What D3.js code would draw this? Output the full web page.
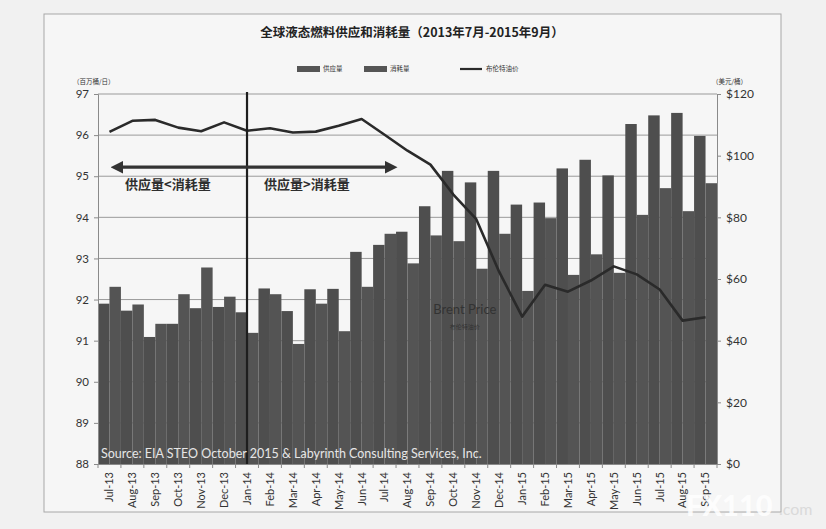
<!DOCTYPE html>
<html>
<head>
<meta charset="utf-8">
<script src="https://cdn.jsdelivr.net/npm/d3@7"></script>
<style>
  body { margin: 0; background: #f1f1f1; }
  svg { display: block; }
</style>
</head>
<body>
<svg id="chart"></svg>
<script>
// Months on the x axis
const months = ["Jul-13","Aug-13","Sep-13","Oct-13","Nov-13","Dec-13",
  "Jan-14","Feb-14","Mar-14","Apr-14","May-14","Jun-14","Jul-14","Aug-14","Sep-14","Oct-14","Nov-14","Dec-14",
  "Jan-15","Feb-15","Mar-15","Apr-15","May-15","Jun-15","Jul-15","Aug-15","Sep-15"];

// Supply (million barrels / day)
const supply = [91.90, 91.73, 91.09, 91.41, 91.79, 91.82,
  91.69, 92.27, 91.72, 92.25, 92.26, 93.16, 93.33, 93.65, 94.27, 95.13, 94.85, 95.13,
  94.31, 94.36, 95.19, 95.40, 95.02, 96.27, 96.48, 96.54, 95.98];

// Consumption (million barrels / day)
const consumption = [92.31, 91.88, 91.41, 92.13, 92.78, 92.07,
  91.19, 92.13, 90.92, 91.90, 91.23, 92.31, 93.60, 92.88, 93.56, 93.42, 92.75, 93.60,
  92.21, 93.98, 92.60, 93.10, 92.65, 94.06, 94.71, 94.15, 94.83];

// Brent price ($ / barrel)
const brent = [107.7, 111.3, 111.6, 109.1, 107.9, 110.8,
  108.1, 108.9, 107.5, 107.8, 109.7, 111.9, 106.8, 101.6, 97.1, 87.4, 79.4, 62.3,
  47.8, 58.1, 55.9, 59.5, 64.1, 61.5, 56.6, 46.5, 47.6];

const leftTicks = [88, 89, 90, 91, 92, 93, 94, 95, 96, 97];
const rightTicks = [0, 20, 40, 60, 80, 100, 120];

const width = 826, height = 529;
const plot = { left: 98, right: 717, top: 94, bottom: 464 };
const font = "Lato, 'Open Sans', sans-serif";
const cjk = "'Noto Sans CJK SC', sans-serif";

const svg = d3.select("#chart")
    .attr("width", width)
    .attr("height", height);

// Chart frame
svg.append("rect")
    .attr("x", 44).attr("y", 14)
    .attr("width", 737).attr("height", 498)
    .attr("fill", "#f6f6f6")
    .attr("stroke", "#a8a8a8");

// Scales
const x = d3.scaleBand()
    .domain(months)
    .range([plot.left, plot.right])
    .padding(0);

const xInner = d3.scaleBand()
    .domain(["supply", "consumption"])
    .range([0, x.bandwidth()]);

const y = d3.scaleLinear()
    .domain([88, 97])
    .range([plot.bottom, plot.top]);

const yR = d3.scaleLinear()
    .domain([0, 120])
    .range([plot.bottom, plot.top]);

// Gridlines
svg.append("g")
    .selectAll("line")
    .data(leftTicks.slice(1))
    .enter()
    .append("line")
    .attr("x1", plot.left).attr("x2", plot.right)
    .attr("y1", d => y(d)).attr("y2", d => y(d))
    .attr("stroke", "#9a9a9a")
    .attr("stroke-width", 1);

// Bars
const rows = months.map((m, i) => ({ month: m, supply: supply[i], consumption: consumption[i] }));

svg.append("g")
    .selectAll("g")
    .data(rows)
    .enter()
    .append("g")
    .attr("transform", d => `translate(${x(d.month)},0)`)
    .selectAll("rect")
    .data(d => [["supply", d.supply], ["consumption", d.consumption]])
    .enter()
    .append("rect")
    .attr("x", d => xInner(d[0]))
    .attr("width", xInner.bandwidth())
    .attr("y", d => y(d[1]))
    .attr("height", d => y(88) - y(d[1]))
    .attr("fill", d => d[0] === "supply" ? "#4e4e4e" : "#545454");

// Left axis
const leftAxis = svg.append("g")
    .attr("transform", `translate(${plot.left},0)`)
    .call(d3.axisLeft(y).tickValues(leftTicks).tickSize(4).tickFormat(d3.format("d")));
leftAxis.select(".domain").attr("stroke", "#8a8a8a");
leftAxis.selectAll(".tick line").attr("stroke", "#8a8a8a");
leftAxis.selectAll("text")
    .attr("x", -9)
    .style("font-family", font)
    .style("font-size", "11.5px")
    .attr("fill", "#333");

// Right axis
const rightAxis = svg.append("g")
    .attr("transform", `translate(${plot.right},0)`)
    .call(d3.axisRight(yR).tickValues(rightTicks).tickSize(4).tickFormat(d => "$" + d));
rightAxis.select(".domain").attr("stroke", "#8a8a8a");
rightAxis.selectAll(".tick line").attr("stroke", "#8a8a8a");
rightAxis.selectAll("text")
    .attr("x", 9)
    .style("font-family", font)
    .style("font-size", "12px")
    .attr("fill", "#333");

// Bottom axis, ticks on month boundaries
const bottomAxis = svg.append("g")
    .attr("transform", `translate(0,${plot.bottom})`)
    .call(d3.axisBottom(x).tickSize(0));
bottomAxis.select(".domain").attr("stroke", "#8a8a8a");
bottomAxis.selectAll("text")
    .attr("transform", "rotate(-90)")
    .attr("x", -8)
    .attr("y", 0)
    .attr("dy", "0.35em")
    .attr("text-anchor", "end")
    .style("font-family", font)
    .style("font-size", "11px")
    .attr("fill", "#333");
svg.append("g")
    .selectAll("line")
    .data(months.concat(["end"]))
    .enter()
    .append("line")
    .attr("x1", (d, i) => plot.left + i * x.step())
    .attr("x2", (d, i) => plot.left + i * x.step())
    .attr("y1", plot.bottom).attr("y2", plot.bottom + 4)
    .attr("stroke", "#8a8a8a");

// Brent price line
const line = d3.line()
    .x((d, i) => x(months[i]) + x.bandwidth() / 2)
    .y(d => yR(d));

svg.append("path")
    .datum(brent)
    .attr("d", line)
    .attr("fill", "none")
    .attr("stroke", "#2a2a2a")
    .attr("stroke-width", 2.6)
    .attr("stroke-linejoin", "round");

// Vertical divider at Jan-14
const xJan = x("Jan-14") + x.bandwidth() / 2;
svg.append("line")
    .attr("x1", xJan).attr("x2", xJan)
    .attr("y1", plot.top - 2).attr("y2", plot.bottom)
    .attr("stroke", "#1e1e1e")
    .attr("stroke-width", 2.2);

// Double arrow
const defs = svg.append("defs");
["start", "end"].forEach(k => {
  defs.append("marker")
      .attr("id", "arrow-" + k)
      .attr("viewBox", "0 0 10 10")
      .attr("refX", 5).attr("refY", 5)
      .attr("markerWidth", 4).attr("markerHeight", 4)
      .attr("orient", k === "end" ? "auto" : "auto-start-reverse")
      .append("path")
      .attr("d", "M0,0 L10,5 L0,10 Z")
      .attr("fill", "#333");
});
svg.append("line")
    .attr("x1", x("Jul-13") + 19).attr("x2", x("Jul-14") + 18)
    .attr("y1", y(95.22)).attr("y2", y(95.22))
    .attr("stroke", "#333")
    .attr("stroke-width", 3.2)
    .attr("marker-start", "url(#arrow-start)")
    .attr("marker-end", "url(#arrow-end)");

svg.append("text")
    .attr("x", x("Jul-13") + 27).attr("y", y(94.8))
    .attr("dy", "0.35em")
    .style("font-family", cjk)
    .style("font-size", "13px")
    .style("font-weight", "bold")
    .attr("fill", "#2e2e2e")
    .text("供应量<消耗量");

svg.append("text")
    .attr("x", xJan + 17).attr("y", y(94.8))
    .attr("dy", "0.35em")
    .style("font-family", cjk)
    .style("font-size", "13px")
    .style("font-weight", "bold")
    .attr("fill", "#2e2e2e")
    .text("供应量>消耗量");

// Brent Price label
svg.append("text")
    .attr("x", x("Nov-14")).attr("y", yR(50))
    .attr("dy", "0.35em")
    .attr("text-anchor", "middle")
    .style("font-family", font)
    .style("font-size", "13px")
    .attr("fill", "#333")
    .text("Brent Price");
svg.append("text")
    .attr("x", x("Nov-14")).attr("y", yR(44.5))
    .attr("dy", "0.35em")
    .attr("text-anchor", "middle")
    .style("font-family", cjk)
    .style("font-size", "6px")
    .attr("fill", "#333")
    .text("布伦特油价");

// Source
svg.append("text")
    .attr("x", plot.left + 3).attr("y", plot.bottom - 6)
    .style("font-family", font)
    .style("font-size", "12.5px")
    .attr("fill", "#e6e6e6")
    .text("Source:  EIA STEO October 2015 & Labyrinth Consulting Services, Inc.");

// Title
svg.append("text")
    .attr("x", 412).attr("y", 33)
    .attr("dy", "0.35em")
    .attr("text-anchor", "middle")
    .style("font-family", cjk)
    .style("font-size", "12.5px")
    .style("font-weight", "bold")
    .attr("fill", "#222")
    .text("全球液态燃料供应和消耗量（2013年7月-2015年9月）");

// Legend
const legend = [
  { label: "供应量", type: "rect", x: 297 },
  { label: "消耗量", type: "rect", x: 364 },
  { label: "布伦特油价", type: "line", x: 460 }
];
const lg = svg.append("g")
    .selectAll("g")
    .data(legend)
    .enter()
    .append("g")
    .attr("transform", d => `translate(${d.x},69)`);
lg.filter(d => d.type === "rect")
    .append("rect")
    .attr("x", 0).attr("y", -3)
    .attr("width", 23).attr("height", 6)
    .attr("fill", "#555");
lg.filter(d => d.type === "line")
    .append("line")
    .attr("x1", 0).attr("x2", 22)
    .attr("y1", 0).attr("y2", 0)
    .attr("stroke", "#2a2a2a")
    .attr("stroke-width", 2.2);
lg.append("text")
    .attr("x", 26).attr("y", 0)
    .attr("dy", "0.35em")
    .style("font-family", cjk)
    .style("font-size", "6.5px")
    .attr("fill", "#333")
    .text(d => d.label);

// Axis units
svg.append("text")
    .attr("x", 73).attr("y", 82)
    .attr("dy", "0.35em")
    .style("font-family", cjk)
    .style("font-size", "6.5px")
    .attr("fill", "#333")
    .text("（百万桶/日）");
svg.append("text")
    .attr("x", 712).attr("y", 82)
    .attr("dy", "0.35em")
    .style("font-family", cjk)
    .style("font-size", "6.5px")
    .attr("fill", "#333")
    .text("（美元/桶）");

// Watermark
svg.append("text")
    .attr("x", 686).attr("y", 516)
    .style("font-family", font)
    .style("font-size", "29px")
    .style("font-weight", "900")
    .attr("fill", "#ffffff")
    .attr("opacity", 0.85)
    .text("FX110");
svg.append("text")
    .attr("x", 779).attr("y", 515)
    .style("font-family", font)
    .style("font-size", "16px")
    .attr("fill", "#dadada")
    .text(".com");
</script>
</body>
</html>
